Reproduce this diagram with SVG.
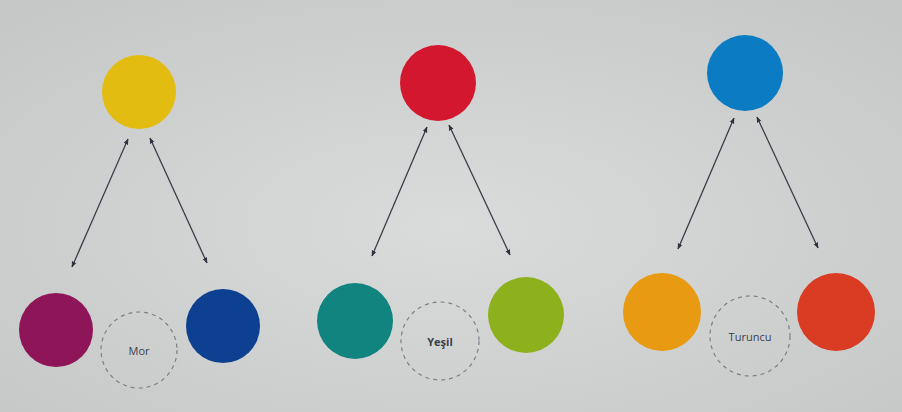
<svg xmlns="http://www.w3.org/2000/svg" width="902" height="412" viewBox="0 0 902 412">
<defs>
<radialGradient id="bg" cx="50%" cy="55%" r="70%">
<stop offset="0" stop-color="#dadcdb"/>
<stop offset="1" stop-color="#c6c8c7"/>
</radialGradient>
<marker id="ah" viewBox="0 0 10 10" refX="9" refY="5" markerWidth="6" markerHeight="6" orient="auto-start-reverse" markerUnits="userSpaceOnUse">
<path d="M0,1 L10,5 L0,9 Z" fill="#2f3340"/>
</marker>
<style>
.ln{stroke:#3a3d48;stroke-width:1.3;fill:none;marker-start:url(#ah);marker-end:url(#ah)}
.mix{fill:none;stroke:#7c7f88;stroke-width:1.2;stroke-dasharray:4 4}
.lbl{font-family:"Open Sans","Liberation Sans",sans-serif;font-size:11px;fill:#3b3f50;text-anchor:middle;dominant-baseline:middle}
</style>
</defs>
<rect width="902" height="412" fill="url(#bg)"/>
<g id="connectors">
<line class="ln" x1="128" y1="139" x2="72" y2="267"/>
<line class="ln" x1="150" y1="138" x2="207" y2="263"/>
<line class="ln" x1="427" y1="127" x2="372" y2="256"/>
<line class="ln" x1="449" y1="125" x2="510" y2="255"/>
<line class="ln" x1="734" y1="118" x2="678" y2="249"/>
<line class="ln" x1="757" y1="117" x2="818" y2="248"/>
</g>
<g id="yellow"><circle cx="139" cy="92" r="37" fill="#e2bc10"/></g>
<g id="red"><circle cx="438" cy="83" r="38" fill="#d3172f"/></g>
<g id="blue"><circle cx="745" cy="73" r="38" fill="#0b7bc3"/></g>
<g id="magenta"><circle cx="56" cy="330" r="37" fill="#8e1557"/></g>
<g id="mor"><circle class="mix" cx="139" cy="350" r="38"/><text class="lbl" x="139" y="352">Mor</text></g>
<g id="darkblue"><circle cx="223" cy="326" r="37" fill="#0d4090"/></g>
<g id="teal"><circle cx="355" cy="321" r="38" fill="#12847f"/></g>
<g id="yesil"><circle class="mix" cx="440" cy="341" r="39"/><text class="lbl" x="440" y="343" font-weight="bold">Yeşil</text></g>
<g id="green"><circle cx="526" cy="315" r="38" fill="#8cb11d"/></g>
<g id="orange"><circle cx="662" cy="312" r="39" fill="#e79a12"/></g>
<g id="turuncu"><circle class="mix" cx="750" cy="336" r="40"/><text class="lbl" x="750" y="338">Turuncu</text></g>
<g id="redorange"><circle cx="836" cy="312" r="39" fill="#da3b23"/></g>
</svg>
